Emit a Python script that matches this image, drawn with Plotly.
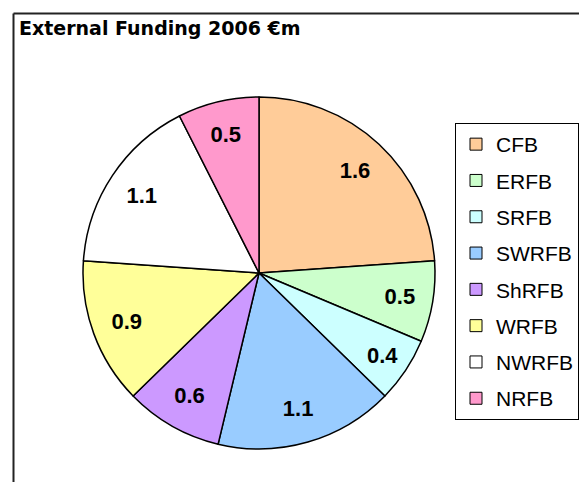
import plotly.graph_objects as go

labels = ["CFB", "ERFB", "SRFB", "SWRFB", "ShRFB", "WRFB", "NWRFB", "NRFB"]
values = [1.6, 0.5, 0.4, 1.1, 0.6, 0.9, 1.1, 0.5]
colors = ["#FFCC99", "#CCFFCC", "#CCFFFF", "#99CCFF", "#CC99FF", "#FFFF99", "#FFFFFF", "#FF99CC"]
title_text = "External Funding 2006 €m"

# page body has an 8px margin; figure sized so it ends at the window edge
OFF = 8
W, H = 587 - OFF, 482 - OFF


def px(x):
    return (x - OFF) / W


def py(y):
    return 1 - (y - OFF) / H


cx, cy, r = 259, 273, 176
dom = dict(x=[px(cx - r), px(cx + r)], y=[py(cy + r), py(cy - r)])

fig = go.Figure()
# filled slices
fig.add_trace(go.Pie(
    labels=labels, values=values, sort=False, direction="clockwise", rotation=0,
    marker=dict(colors=colors, line=dict(color="black", width=1.5)),
    textinfo="none", showlegend=False, domain=dom, hoverinfo="label+value",
))
# transparent ring layer carrying the value labels (places them near 0.8 r)
fig.add_trace(go.Pie(
    labels=labels, values=values, sort=False, direction="clockwise", rotation=0, hole=0.6,
    marker=dict(colors=["rgba(0,0,0,0)"] * len(labels), line=dict(width=0)),
    textinfo="value", textposition="inside", insidetextorientation="horizontal",
    textfont=dict(family="Liberation Sans", size=22, color="black", weight="bold"),
    showlegend=False, domain=dom, hoverinfo="label+value",
))

for lab, col in zip(labels, colors):
    fig.add_trace(go.Scatter(
        x=[None], y=[None], mode="markers", name=lab, legendgroup=lab,
        marker=dict(symbol="square", size=12, color=col, line=dict(color="black", width=1)),
        showlegend=True, hoverinfo="skip",
    ))

bx, by = 13.5, 13.5
fig.add_shape(type="line", xref="paper", yref="paper", x0=px(bx), x1=px(bx), y0=0, y1=py(by),
              line=dict(color="#222222", width=2))
fig.add_shape(type="line", xref="paper", yref="paper", x0=px(bx), x1=1, y0=py(by), y1=py(by),
              line=dict(color="#222222", width=2))

fig.add_annotation(text="<b>" + title_text + "</b>", xref="paper", yref="paper",
                   x=px(17), y=py(28), xanchor="left", yanchor="middle", showarrow=False,
                   font=dict(family="DejaVu Sans", size=19, color="black"))

fig.update_layout(
    width=W, height=H, margin=dict(l=0, r=0, t=0, b=0),
    paper_bgcolor="white", plot_bgcolor="white",
    xaxis=dict(visible=False), yaxis=dict(visible=False),
    showlegend=True,
    legend=dict(x=px(455), y=py(123), xanchor="left", yanchor="top",
                bordercolor="black", borderwidth=1, bgcolor="white",
                font=dict(family="Liberation Sans", size=21, color="black"),
                tracegroupgap=6, traceorder="grouped"),
)

fig.write_html("out.html")
